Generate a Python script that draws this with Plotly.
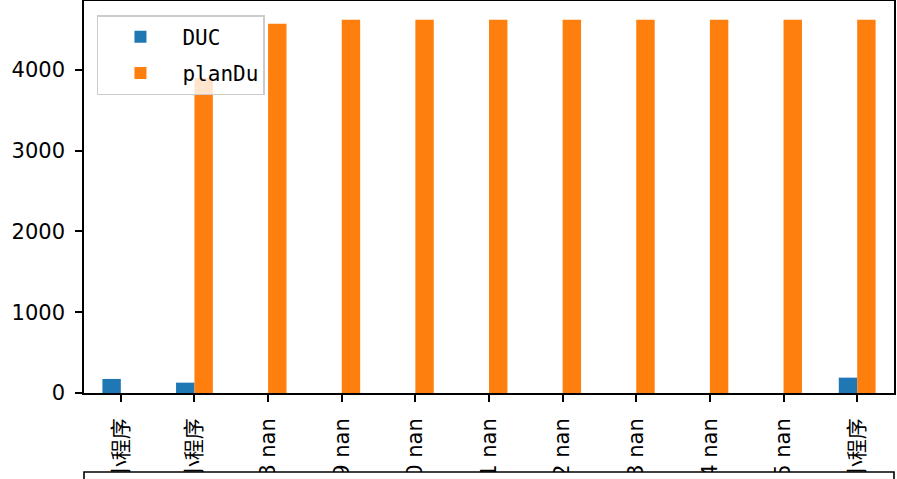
import plotly.graph_objects as go

categories = ["16 小程序", "17 小程序", "18 nan", "19 nan", "20 nan", "21 nan",
              "22 nan", "23 nan", "24 nan", "25 nan", "26 小程序"]
duc = [174, 128, None, None, None, None, None, None, None, None, 190]
plan_du = [None, 3900, 4571, 4621, 4621, 4621, 4621, 4621, 4621, 4621, 4621]

x_pos = list(range(len(categories)))
ymax = max(v for v in duc + plan_du if v is not None) * 1.05

fig = go.Figure()
fig.add_trace(go.Bar(x=x_pos, y=duc, name="DUC", marker_color="#1f77b4",
                     marker_line_width=0, legendgroup="a"))
fig.add_trace(go.Bar(x=x_pos, y=plan_du, name="planDu", marker_color="#ff7f0e",
                     marker_line_width=0, legendgroup="b"))

tick_font = dict(family="DejaVu Sans, Noto Sans CJK SC", size=21, color="black")

fig.update_layout(
    width=897, height=479,
    margin=dict(l=84, r=3, t=1, b=86, autoexpand=False),
    paper_bgcolor="white", plot_bgcolor="white",
    barmode="group", bargap=0.5, bargroupgap=0,
    legend=dict(x=0.016, y=0.964, xanchor="left", yanchor="top",
                bgcolor="rgba(255,255,255,0.8)", bordercolor="#cccccc", borderwidth=1.5,
                font=dict(family="DejaVu Sans Mono, Noto Sans CJK SC", size=21, color="black"),
                tracegroupgap=6, itemwidth=74),
    xaxis=dict(range=[-0.5, len(categories) - 0.5], tickmode="array",
               tickvals=x_pos, ticktext=categories, tickangle=-90,
               showline=True, mirror=True, linecolor="black", linewidth=1.6,
               ticks="outside", ticklen=7, tickwidth=1.6, tickcolor="black",
               ticklabelstandoff=8,
               showgrid=False, zeroline=False, tickfont=tick_font, automargin=False),
    yaxis=dict(range=[0, ymax], tickvals=[0, 1000, 2000, 3000, 4000],
               showline=True, mirror=True, linecolor="black", linewidth=1.6,
               ticks="outside", ticklen=7, tickwidth=1.6, tickcolor="black",
               ticklabelstandoff=6,
               showgrid=False, zeroline=False, tickfont=tick_font, automargin=False),
    shapes=[dict(type="rect", xref="paper", yref="paper", x0=0, x1=1,
                 y0=-0.2015, y1=-0.35, fillcolor="white",
                 line=dict(color="black", width=1.6), layer="above")],
)

fig.write_html("out.html", config={"displayModeBar": False},
               post_script="document.body.style.margin='0';")
